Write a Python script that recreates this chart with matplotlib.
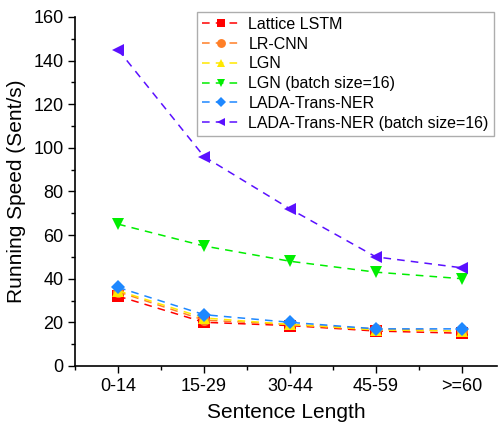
import matplotlib
matplotlib.use('Agg')
import matplotlib.pyplot as plt
from matplotlib.ticker import MultipleLocator

plt.rcParams['font.family'] = ['Liberation Sans', 'DejaVu Sans']

lengths = ['0-14', '15-29', '30-44', '45-59', '>=60']
lattice_lstm = [32, 20, 18.5, 16, 15]
lr_cnn = [34, 21, 19, 17, 16]
lgn = [34.5, 22, 19, 16.5, 16]
lgn_bs16 = [65, 55, 48, 43, 40]
lada = [36, 23.5, 20, 17, 17]
lada_bs16 = [145, 96, 72, 50, 45]

series = [
    ('Lattice LSTM', lattice_lstm, '#FF0000', 's'),
    ('LR-CNN', lr_cnn, '#FF7F27', 'o'),
    ('LGN', lgn, '#FFE800', '^'),
    ('LGN (batch size=16)', lgn_bs16, '#00EE00', 'v'),
    ('LADA-Trans-NER', lada, '#1E88FF', 'D'),
    ('LADA-Trans-NER (batch size=16)', lada_bs16, '#5A10FF', '<'),
]

fig = plt.figure(figsize=(4.98, 4.25), dpi=100)
ax = fig.add_axes([0.151, 0.139, 0.847, 0.821])

x = list(range(len(lengths)))
for name, vals, color, marker in series:
    ms = 7 if marker == 'D' else 8
    ax.plot(x, vals, linestyle=(0, (5, 4)), color=color, linewidth=1.1,
            marker=marker, markersize=ms, markeredgewidth=0, label=name)

ax.set_xlim(-0.5, 4.41)
ax.set_ylim(0, 160)
ax.set_xticks(x)
ax.set_xticklabels(lengths)
ax.xaxis.set_minor_locator(MultipleLocator(0.5))
ax.yaxis.set_major_locator(MultipleLocator(20))
ax.yaxis.set_minor_locator(MultipleLocator(10))
ax.tick_params(which='major', direction='out', length=5, width=1, labelsize=13)
ax.tick_params(which='minor', direction='out', length=3, width=1)
ax.spines['top'].set_visible(False)
ax.spines['right'].set_visible(False)
ax.spines['left'].set_linewidth(1.2)
ax.spines['bottom'].set_linewidth(1.2)

ax.set_xlabel('Sentence Length', fontsize=15, labelpad=6)
ax.set_ylabel('Running Speed (Sent/s)', fontsize=15, labelpad=5)

leg = ax.legend(loc='upper right', bbox_to_anchor=(0.992, 1.014), borderaxespad=0,
                fontsize=11.5, frameon=True, fancybox=False, edgecolor='#999999',
                handlelength=2.4, handletextpad=0.5, borderpad=0.3,
                labelspacing=0.3, markerscale=0.8)
leg.get_frame().set_linewidth(1)

fig.savefig('out.png', dpi=100)
